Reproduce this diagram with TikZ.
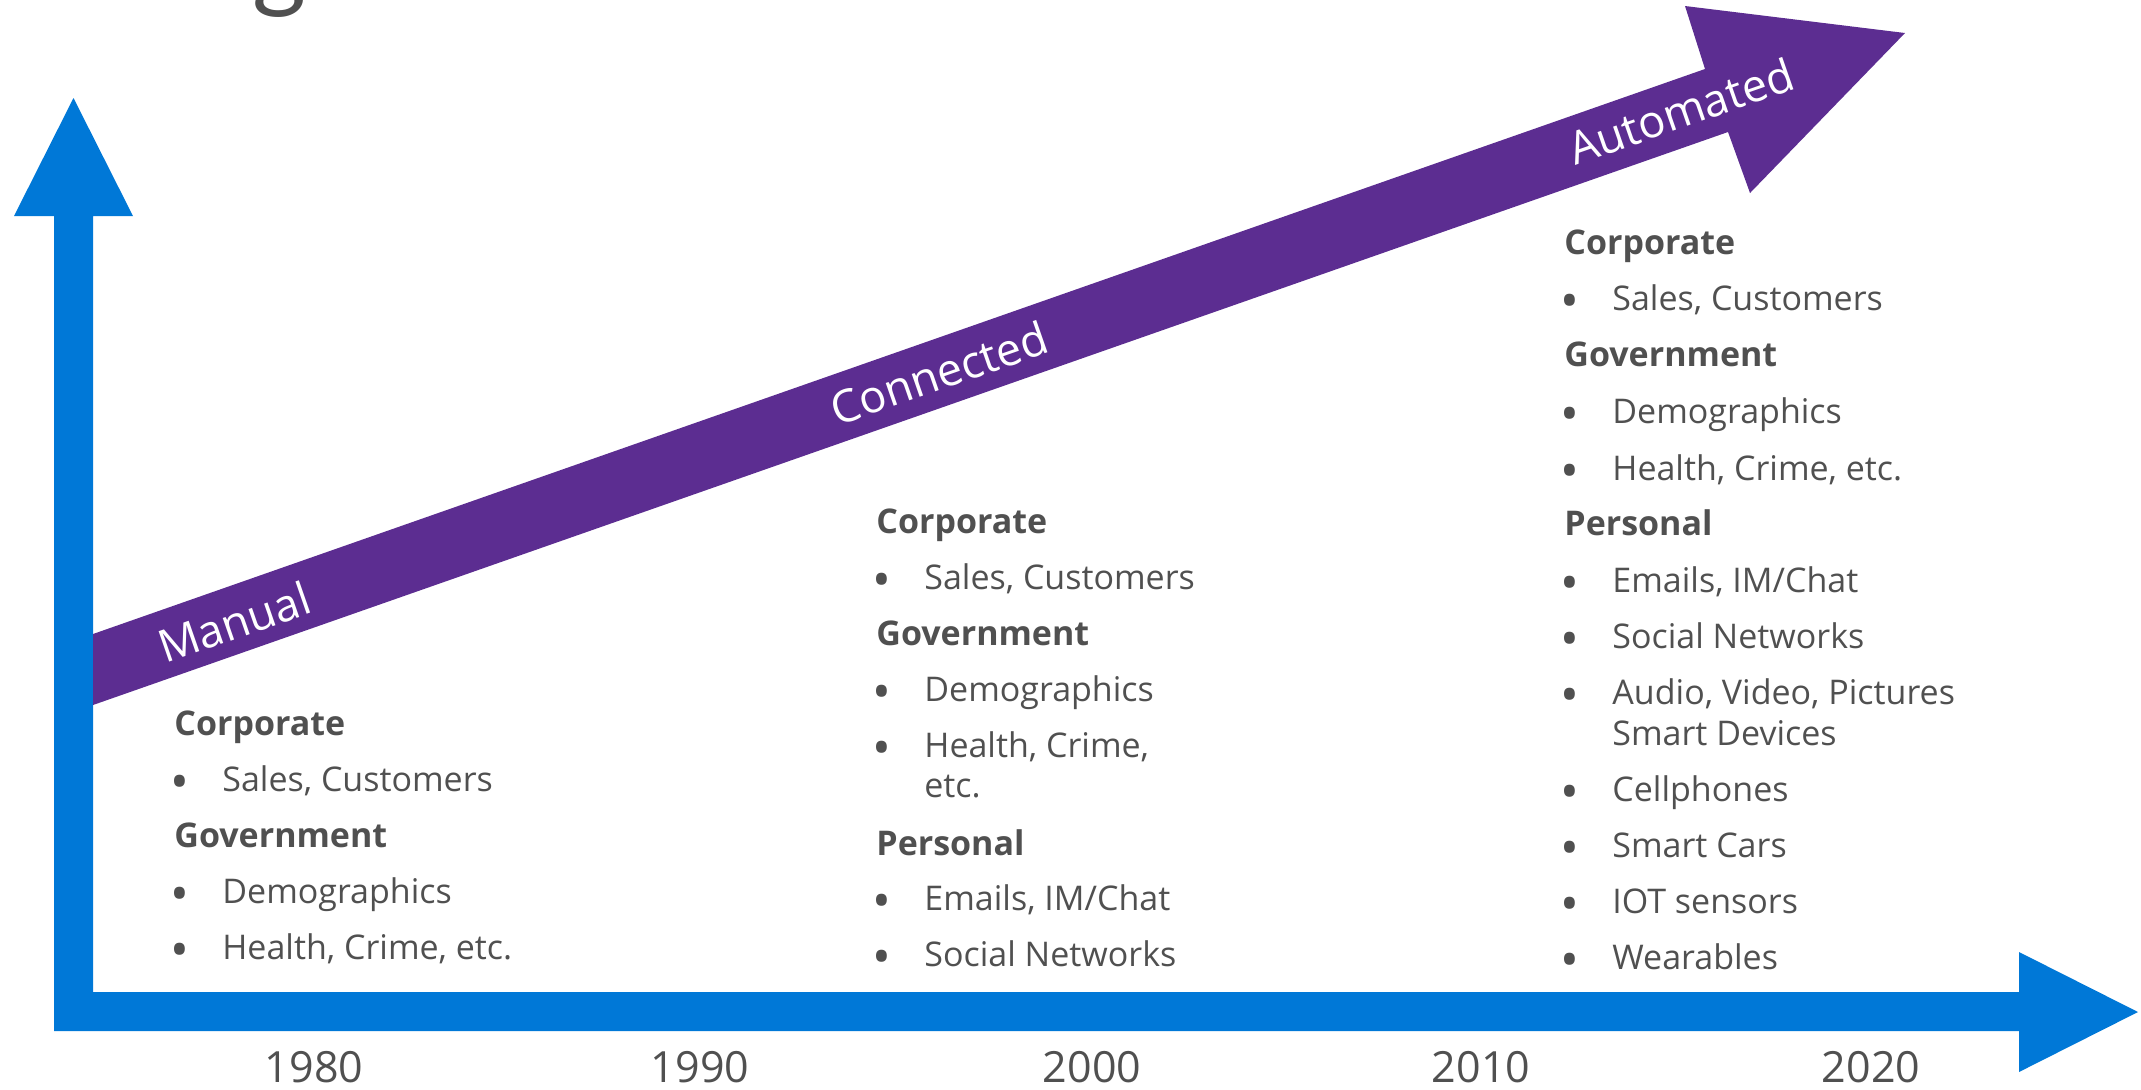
\documentclass[tikz,border=0pt]{standalone}
\usepackage{fontspec}
\setmainfont{Open Sans}
\newfontfamily\titlefont{Lato}
\definecolor{msblue}{HTML}{0078D7}
\definecolor{mspurple}{HTML}{5C2D91}
\definecolor{txtgray}{HTML}{505050}
\begin{document}
\begin{tikzpicture}[x=0.5pt,y=-0.5pt,
  item/.style={anchor=base west, inner sep=0, text=txtgray, font=\fontsize{17}{20}\selectfont},
  hd/.style={item, font=\fontsize{17}{20}\selectfont\bfseries},
  bul/.style={anchor=base, inner sep=0, text=txtgray, font=\fontsize{25}{28}\selectfont, yshift=-4pt},
  yr/.style={anchor=base, inner sep=0, text=txtgray, font=\fontsize{21.5}{26}\selectfont},
  phase/.style={inner sep=0, text=white, font=\fontsize{22.5}{27}\selectfont, rotate=19.2}]
\useasboundingbox (0,0) rectangle (2141,1089);
\begin{scope}
\clip (0,0) rectangle (2141,1089);
\node[anchor=base, inner sep=0, text=txtgray, font=\titlefont\fontsize{52}{60}\selectfont] (title) at (280,-2) {g};
\end{scope}
% blue axes
\fill[msblue] (54,1031) -- (54,216) -- (14,216) -- (73.5,98) -- (133,216) -- (93,216)
  -- (93,992) -- (2019,992) -- (2019,952) -- (2138,1012) -- (2019,1072) -- (2019,1031) -- cycle;
% purple arrow
\fill[mspurple] (93,634) -- (1705,69) -- (1685,6) -- (1905,33) -- (1750,193) -- (1728,132) -- (93,705) -- cycle;
\node[phase] (manual) at (234,622) {Manual};
\node[phase] (connected) at (939,373) {Connected};
\node[phase] (automated) at (1681,111) {Automated};
% column 1
\node[hd] (a1) at (174,735) {Corporate};
\node[bul] (a2b) at (180,791) {•}; \node[item] (a2) at (222,791) {Sales, Customers};
\node[hd] (a3) at (174,847) {Government};
\node[bul] (a4b) at (180,903) {•}; \node[item] (a4) at (222,903) {Demographics};
\node[bul] (a5b) at (180,959) {•}; \node[item] (a5) at (222,959) {Health, Crime, etc.};
% column 2
\node[hd] (b1) at (876,533) {Corporate};
\node[bul] (b2b) at (882,589) {•}; \node[item] (b2) at (924,589) {Sales, Customers};
\node[hd] (b3) at (876,645) {Government};
\node[bul] (b4b) at (882,701) {•}; \node[item] (b4) at (924,701) {Demographics};
\node[bul] (b5b) at (882,757) {•}; \node[item] (b5) at (924,757) {Health, Crime,};
\node[item] (b5c) at (924,797) {etc.};
\node[hd] (b6) at (876,855) {Personal};
\node[bul] (b7b) at (882,910) {•}; \node[item] (b7) at (924,910) {Emails, IM/Chat};
\node[bul] (b8b) at (882,966) {•}; \node[item] (b8) at (924,966) {Social Networks};
% column 3
\node[hd] (c1) at (1564,254) {Corporate};
\node[bul] (c2b) at (1570,310) {•}; \node[item] (c2) at (1612,310) {Sales, Customers};
\node[hd] (c3) at (1564,366) {Government};
\node[bul] (c4b) at (1570,423) {•}; \node[item] (c4) at (1612,423) {Demographics};
\node[bul] (c5b) at (1570,480) {•}; \node[item] (c5) at (1612,480) {Health, Crime, etc.};
\node[hd] (c6) at (1564,535) {Personal};
\node[bul] (c7b) at (1570,592) {•}; \node[item] (c7) at (1612,592) {Emails, IM/Chat};
\node[bul] (c8b) at (1570,648) {•}; \node[item] (c8) at (1612,648) {Social Networks};
\node[bul] (c9b) at (1570,704) {•}; \node[item] (c9) at (1612,704) {Audio, Video, Pictures};
\node[item] (c9c) at (1612,745) {Smart Devices};
\node[bul] (c10b) at (1570,801) {•}; \node[item] (c10) at (1612,801) {Cellphones};
\node[bul] (c11b) at (1570,857) {•}; \node[item] (c11) at (1612,857) {Smart Cars};
\node[bul] (c12b) at (1570,913) {•}; \node[item] (c12) at (1612,913) {IOT sensors};
\node[bul] (c13b) at (1570,969) {•}; \node[item] (c13) at (1612,969) {Wearables};
% years
\node[yr] (y1980) at (314,1082) {1980};
\node[yr] (y1990) at (700,1082) {1990};
\node[yr] (y2000) at (1092,1082) {2000};
\node[yr] (y2010) at (1481,1082) {2010};
\node[yr] (y2020) at (1871,1082) {2020};
\end{tikzpicture}
\end{document}
